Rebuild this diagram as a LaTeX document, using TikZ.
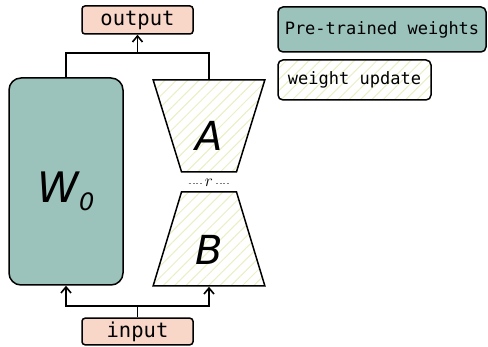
\documentclass[tikz,border=0pt]{standalone}
\usepackage{fontspec}
\setmonofont{DejaVu Sans Mono}
\newfontfamily\handfont{DejaVu Sans}
\usetikzlibrary{arrows.meta, positioning, shapes.geometric, patterns.meta}
\definecolor{frozen}{RGB}{155,194,187}
\definecolor{salmon}{RGB}{248,214,200}
\definecolor{hatch}{RGB}{236,238,196}
\tikzset
{%
box/.style={draw, line width=1.5pt, rounded corners=5pt, font=\ttfamily\fontsize{17}{20}\selectfont},
io/.style={box, fill=salmon, rounded corners=3pt, font=\ttfamily\fontsize{20.5}{24}\selectfont},
weights/.style={box, fill=frozen},
update/.style={box, preaction={fill=white}, pattern={Lines[angle=45, distance=8pt, line width=1pt]}, pattern color=hatch},
lowrank/.style={update, rounded corners=0pt, trapezium, trapezium stretches=true,
	trapezium left angle=70.5, trapezium right angle=70.5, inner sep=0pt,
	font=\handfont\itshape\fontsize{40}{44}\selectfont},
wire/.style={line width=1.6pt},
>={Straight Barb[length=6pt, width=10pt]}
}
\begin{document}
\begin{tikzpicture}[x=1pt, y=-1pt]
	\useasboundingbox (0,0) rectangle (488,347);

		% main blocks
		\node[weights, rounded corners=12pt, minimum width=114pt, minimum height=207pt,
			font=\handfont\itshape\fontsize{42}{46}\selectfont] (w0) at (66,181.5) {\raisebox{-21pt}[20pt][20pt]{W\raisebox{-8pt}{\fontsize{24}{26}\selectfont 0}}};
		\node[lowrank, shape border rotate=180, minimum width=112pt, minimum height=92pt] (a) at (209,126) {\raisebox{-25pt}[20pt][20pt]{A}};
		\node[lowrank, minimum width=112pt, minimum height=94pt] (b) at (209,239) {\raisebox{-26pt}[20pt][20pt]{B}};

		% rank
		\node[font=\fontsize{17}{18}\selectfont, inner sep=3pt] (r) at (209,183) {$r$};
		\draw[gray, dash pattern=on 2pt off 1.5pt, line width=0.8pt] (r.west) -- ++(-14,0) (r.east) -- ++(14,0);

		% input / output
		\node[io, minimum width=111pt, minimum height=28pt] (out) at (137.5,20) {output};
		\node[io, minimum width=111pt, minimum height=25pt] (inp) at (137.5,331.5) {input};

		% legend
		\node[weights, minimum width=208pt, minimum height=45pt] (leg1) at (382,29.5) {Pre-trained weights};
		\node[update, minimum width=153pt, minimum height=40pt] (leg2) at (354.5,80) {weight update};

		\coordinate (top) at (137.5,53);
		\coordinate (bot) at (137.5,306);

		\draw[wire] (w0.north) |- (top) -| (a.north);
		\draw[wire, ->] (top) -- (out.south);
		\draw[wire] (inp.north) -- (bot);
		\draw[wire, ->] (bot) -| (w0.south);
		\draw[wire, ->] (bot) -| (b.south);
\end{tikzpicture}
\end{document}
